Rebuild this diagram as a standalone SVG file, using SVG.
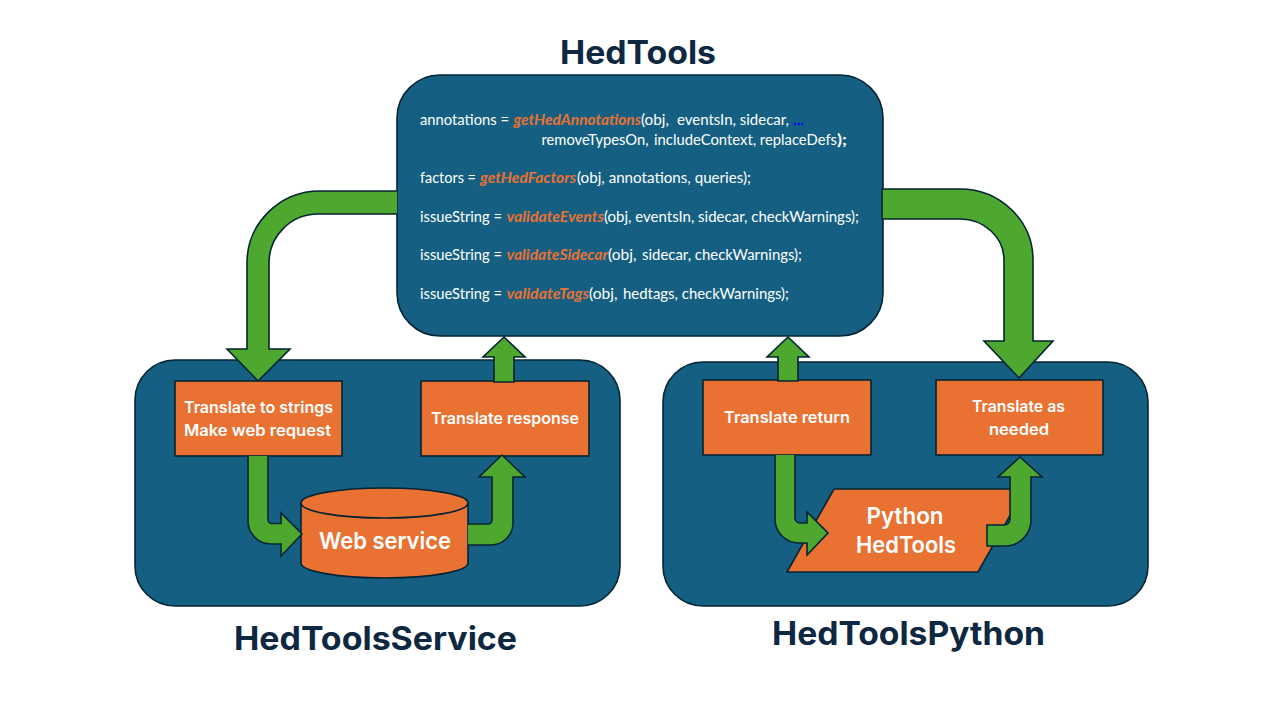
<svg xmlns="http://www.w3.org/2000/svg" width="1280" height="720" viewBox="0 0 1280 720">
<style>
.panel{fill:#156082;stroke:#042433;stroke-width:1.6}
.box{fill:#E97132;stroke:#042433;stroke-width:1.6}
.arrow{fill:#4EA72E;stroke:#042433;stroke-width:1.6;stroke-linejoin:miter}
.title{font-family:Inter,"Noto Sans",sans-serif;font-weight:700;font-size:32px;fill:#0E2841;text-anchor:middle}
.label{font-family:Inter,"Noto Sans",sans-serif;font-weight:600;font-size:16px;fill:#fff;text-anchor:middle}
.big{font-family:Inter,"Noto Sans",sans-serif;font-weight:600;font-size:23px;fill:#fff;text-anchor:middle}
.code{font-family:Lato,"Liberation Sans",sans-serif;font-size:15px;fill:#fff}
.fn{font-weight:700;font-style:italic;fill:#E97132}
.b{font-weight:700}
.dots{font-weight:700;fill:#0000FF}
</style>
<rect width="1280" height="720" fill="#fff"/>
<g id="hedtools">
<rect class="panel" x="397" y="75" width="486" height="261" rx="43" ry="43"/>
<text class="title" x="638" y="64" textLength="156" lengthAdjust="spacingAndGlyphs">HedTools</text>
<g class="code">
<text y="125" x="420" textLength="89" lengthAdjust="spacingAndGlyphs">annotations =</text>
<text y="125" x="513.5" class="fn" textLength="127.5" lengthAdjust="spacingAndGlyphs">getHedAnnotations</text>
<text y="125" x="641" textLength="28" lengthAdjust="spacingAndGlyphs">(obj,</text>
<text y="125" x="677" textLength="112" lengthAdjust="spacingAndGlyphs">eventsIn, sidecar,</text>
<text y="125" x="793" class="dots" textLength="11" lengthAdjust="spacingAndGlyphs">...</text>
<text y="144.5" x="541.5" textLength="107" lengthAdjust="spacingAndGlyphs">removeTypesOn,</text>
<text y="144.5" x="654" textLength="183" lengthAdjust="spacingAndGlyphs">includeContext, replaceDefs</text>
<text y="144.5" x="837" class="b" textLength="10" lengthAdjust="spacingAndGlyphs">);</text>
<text y="183" x="420" textLength="56" lengthAdjust="spacingAndGlyphs">factors =</text>
<text y="183" x="480" class="fn" textLength="96" lengthAdjust="spacingAndGlyphs">getHedFactors</text>
<text y="183" x="577" textLength="174" lengthAdjust="spacingAndGlyphs">(obj, annotations, queries);</text>
<text y="221.5" x="420" textLength="82" lengthAdjust="spacingAndGlyphs">issueString =</text>
<text y="221.5" x="506.5" class="fn" textLength="97.5" lengthAdjust="spacingAndGlyphs">validateEvents</text>
<text y="221.5" x="604" textLength="255" lengthAdjust="spacingAndGlyphs">(obj, eventsIn, sidecar, checkWarnings);</text>
<text y="259.5" x="420" textLength="82" lengthAdjust="spacingAndGlyphs">issueString =</text>
<text y="259.5" x="506.5" class="fn" textLength="101.5" lengthAdjust="spacingAndGlyphs">validateSidecar</text>
<text y="259.5" x="608" textLength="28.5" lengthAdjust="spacingAndGlyphs">(obj,</text>
<text y="259.5" x="642" textLength="160" lengthAdjust="spacingAndGlyphs">sidecar, checkWarnings);</text>
<text y="298.5" x="420" textLength="82" lengthAdjust="spacingAndGlyphs">issueString =</text>
<text y="298.5" x="506.5" class="fn" textLength="82.5" lengthAdjust="spacingAndGlyphs">validateTags</text>
<text y="298.5" x="589" textLength="28.5" lengthAdjust="spacingAndGlyphs">(obj,</text>
<text y="298.5" x="623" textLength="166" lengthAdjust="spacingAndGlyphs">hedtags, checkWarnings);</text>
</g>
</g>
<g id="hedtoolsservice">
<rect class="panel" x="135" y="360" width="485" height="246" rx="40" ry="40"/>
<text class="title" x="375.5" y="650" textLength="283" lengthAdjust="spacingAndGlyphs">HedToolsService</text>
</g>
<g id="hedtoolspython">
<rect class="panel" x="663" y="362" width="485" height="244" rx="40" ry="40"/>
<text class="title" x="908.5" y="645" textLength="273" lengthAdjust="spacingAndGlyphs">HedToolsPython</text>
</g>
<g id="translate-strings">
<rect class="box" x="175" y="381" width="167" height="75"/>
<text class="label" x="258.5" y="413" textLength="149" lengthAdjust="spacingAndGlyphs">Translate to strings</text>
<text class="label" x="257.5" y="436" textLength="147" lengthAdjust="spacingAndGlyphs">Make web request</text>
</g>
<g id="translate-response">
<rect class="box" x="421" y="381" width="168" height="75"/>
<text class="label" x="505" y="424" textLength="148" lengthAdjust="spacingAndGlyphs">Translate response</text>
</g>
<g id="web-service">
<path class="box" d="M301 503A83.5 15 0 0 1 468 503V563A83.5 15 0 0 1 301 563Z"/>
<path fill="none" stroke="#042433" stroke-width="1.6" d="M301 503A83.5 15 0 0 0 468 503"/>
<text class="big" x="385" y="549" textLength="132" lengthAdjust="spacingAndGlyphs">Web service</text>
</g>
<g id="translate-return">
<rect class="box" x="703" y="380" width="168" height="75"/>
<text class="label" x="787" y="423" textLength="126" lengthAdjust="spacingAndGlyphs">Translate return</text>
</g>
<g id="translate-needed">
<rect class="box" x="936" y="380" width="167" height="75"/>
<text class="label" x="1018.5" y="412" textLength="93" lengthAdjust="spacingAndGlyphs">Translate as</text>
<text class="label" x="1019" y="435" textLength="60" lengthAdjust="spacingAndGlyphs">needed</text>
</g>
<g id="python-hedtools">
<path class="box" d="M834 489H1025L978 572H787Z"/>
<text class="big" x="905" y="524" textLength="77" lengthAdjust="spacingAndGlyphs">Python</text>
<text class="big" x="906" y="553" textLength="100" lengthAdjust="spacingAndGlyphs">HedTools</text>
</g>
<g id="connectors">
<path class="arrow" d="M397 191H320A73 72 0 0 0 247 263V349H227L258 381L290 349H269V263A49 49 0 0 1 318 214H397"/>
<path class="arrow" d="M882 189H960A73 71 0 0 1 1033 260V341H1053L1019 378L984 341H1004V260A44 41 0 0 0 960 219H882Z"/>
<path class="arrow" d="M494 382V357H483L504 337L525 357H514V382Z"/>
<path class="arrow" d="M778 381V357H767L788 337L809 357H798V381Z"/>
<path class="arrow" d="M248 456V521A23 23 0 0 0 271 544H281V556L302 534L281 513V523.5H272A4 4 0 0 1 268 519.5V456"/>
<path class="arrow" d="M468 524H488A4 4 0 0 0 492 520V477H479L502 455L525 477H513V523A22 22 0 0 1 491 545H468"/>
<path class="arrow" d="M775 455V519A24 24 0 0 0 799 543H807V555L828 533L807 512V523H800A5 5 0 0 1 795 518V455"/>
<path class="arrow" d="M987 525H1004A6 6 0 0 0 1010 519V477H998L1020 457L1042 477H1031V520A26 26 0 0 1 1005 546H987Z"/>
</g>
</svg>
